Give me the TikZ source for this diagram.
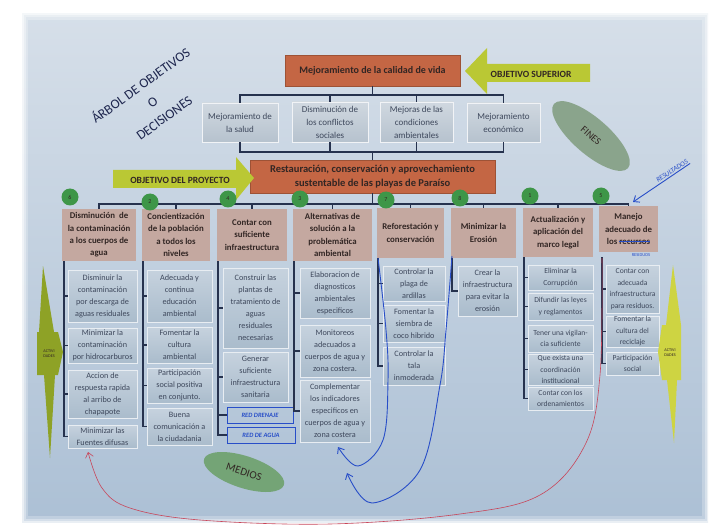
\documentclass[tikz,border=0pt]{standalone}
\usepackage{fontspec}
\setmainfont{Carlito}
\usetikzlibrary{arrows.meta,calc,shapes.geometric}
\definecolor{posterTop}{RGB}{214,223,233}
\definecolor{posterBot}{RGB}{172,192,213}
\definecolor{orangeBox}{RGB}{196,102,68}
\definecolor{hdrFill}{RGB}{196,168,160}
\definecolor{itemTop}{RGB}{198,210,222}
\definecolor{itemBot}{RGB}{170,188,204}
\definecolor{finesTop}{RGB}{208,216,224}
\definecolor{finesBot}{RGB}{182,194,206}
\definecolor{lineC}{RGB}{38,50,78}
\definecolor{txtDark}{RGB}{50,38,36}
\definecolor{txtItem}{RGB}{62,72,92}
\definecolor{arrowYG}{RGB}{186,200,52}
\definecolor{actDark}{RGB}{142,162,38}
\definecolor{actLight}{RGB}{206,212,66}
\definecolor{circG}{RGB}{62,150,72}
\definecolor{finesEl}{RGB}{138,164,140}
\definecolor{mediosEl}{RGB}{116,164,118}
\definecolor{penBlue}{RGB}{40,78,200}
\definecolor{penRed}{RGB}{200,70,90}
\definecolor{titleC}{RGB}{30,38,78}
\newcommand\bx[7]{\node[#6, minimum width={(#4)-(#2)}, minimum height={(#5)-(#3)}] (#1) at ({((#2)+(#4))/2},{((#3)+(#5))/2}) {#7};}
\newcommand\mystrike[1]{\setbox0\hbox{#1}\rlap{#1}{\color{penBlue}\rule[0.3em]{\wd0}{0.7pt}}}
\tikzset{
 ln/.style={draw=lineC, line width=1.1pt},
 obox/.style={fill=orangeBox, draw=orangeBox!80!black, line width=0.3pt, inner sep=0pt, align=center, text=txtDark, font=\bfseries\fontsize{10}{13}\selectfont},
 fbox/.style={top color=finesTop, bottom color=finesBot, draw=white!70!finesTop, line width=0.5pt, inner sep=0pt, align=center, text=txtItem, font=\fontsize{9}{13}\selectfont},
 hbox/.style={fill=hdrFill, inner sep=0pt, align=center, text=txtDark, font=\bfseries\fontsize{8.8}{12.4}\selectfont},
 ibox/.style={top color=itemTop, bottom color=itemBot, draw=white!60!itemTop, line width=0.5pt, inner sep=0pt, align=center, text=txtItem, font=\fontsize{8.2}{12}\selectfont},
 sbox/.style={ibox, font=\fontsize{7.6}{11.5}\selectfont},
 rbox/.style={draw=penBlue, line width=0.8pt, inner sep=0pt, text=penBlue, font=\itshape\bfseries\fontsize{6.5}{7}\selectfont},
 numc/.style={circle, fill=circG, minimum size=17pt, inner sep=0pt, font=\fontsize{6}{6}\selectfont, text=txtDark},
 pen/.style={draw=penBlue, line width=0.9pt},
 redpen/.style={draw=penRed, line width=0.6pt},
 titleS/.style={text=titleC, align=center, font=\fontsize{13.5}{20}\selectfont, inner sep=0pt},
 arrtxt/.style={text=txtDark, font=\bfseries\fontsize{9.5}{10}\selectfont, inner sep=0pt},
 acttxt/.style={text=txtDark, align=center, font=\fontsize{4.2}{4.8}\selectfont, inner sep=0pt},
}
\begin{document}
\begin{tikzpicture}[x=1pt,y=-1pt]
\useasboundingbox (0,0) rectangle (719,529);
\fill[white] (0,0) rectangle (719,529);
% poster
\shade[top color=posterTop, bottom color=posterBot] (22,14) rectangle (708,522);
\foreach \w/\o in {12/0.25,7/0.35,3/0.5} \draw[white, opacity=\o, line width=\w pt] (22,14) rectangle (708,522);

% title
\node[titleS, rotate=36] (title) at (152,101) {ÁRBOL DE OBJETIVOS\\O\\DECISIONES};

% top objective
\bx{top}{285}{55}{460}{86}{obox}{Mejoramiento de la calidad de vida}
\fill[arrowYG] (465,71) -- (487,48) -- (487,64) -- (590,64) -- (590,82) -- (487,82) -- (487,94) -- cycle;
\node[arrtxt] (objsup) at (531,74) {OBJETIVO SUPERIOR};

% fines
\bx{f1}{202}{103}{278}{142}{fbox}{Mejoramiento de\\la salud}
\bx{f2}{292}{102}{368}{142}{fbox}{Disminución de\\los conflictos\\sociales}
\bx{f3}{380}{102}{453}{142}{fbox}{Mejoras de las\\condiciones\\ambientales}
\bx{f4}{467}{103}{540}{142}{fbox}{Mejoramiento\\económico}

% project objective
\bx{proj}{250}{160}{495}{193}{obox, font=\bfseries\fontsize{10.5}{14}\selectfont}{Restauración, conservación y aprovechamiento\\sustentable de las playas de Paraíso}
\fill[arrowYG] (113,170) -- (236,170) -- (236,157) -- (254,178) -- (236,200) -- (236,188) -- (113,188) -- cycle;
\node[arrtxt] (objproy) at (180,180) {OBJETIVO DEL PROYECTO};

% connectors fines
\coordinate (busA) at (372.5,95);
\draw[ln] (top.south) -- (busA);
\draw[ln] (f1.north) |- (f4.north |- busA) -- (f4.north);
\draw[ln] (f2.north) -- (f2.north |- busA);
\draw[ln] (f3.north) -- (f3.north |- busA);
\coordinate (busB) at (372.5,152);
\draw[ln] (f1.south) |- (f4.south |- busB) -- (f4.south);
\draw[ln] (f2.south) -- (f2.south |- busB);
\draw[ln] (f3.south) -- (f3.south |- busB);
\draw[ln] (busB) -- (proj.north);

% column headers
\bx{h1}{62}{209}{136}{261}{hbox}{Disminución~ de\\la contaminación\\a los cuerpos de\\agua}
\bx{h2}{142}{209}{210}{261}{hbox}{Concientización\\de la población\\a todos los\\niveles}
\bx{h3}{217}{209}{287}{261}{hbox}{Contar con\\suficiente\\infraestructura}
\bx{h4}{293}{209}{372}{261}{hbox}{Alternativas de\\solución a la\\problemática\\ambiental}
\bx{h5}{377}{208}{444}{258}{hbox}{Reforestación y\\conservación}
\bx{h6}{451}{208}{516}{258}{hbox}{Minimizar la\\Erosión}
\bx{h7}{523}{208}{593}{257}{hbox}{Actualización y\\aplicación del\\marco legal}
\bx{h8}{599}{206}{658}{252}{hbox}{Manejo\\adecuado de\\los \mystrike{recursos}}
\node[text=penBlue, font=\fontsize{4.5}{5}\selectfont, inner sep=0pt, anchor=north] (resid) at (641,253) {RESIDUOS};

% column bus
\coordinate (busC) at (372.5,204);
\draw[ln] (proj.south) -- (busC);
\draw[ln] (h1.north) |- (h8.north |- busC) -- (h8.north);
\foreach \h in {h2,h3,h4,h5,h6,h7} \draw[ln] (\h.north) -- (\h.north |- busC);

% numbers
\node[numc] (n6) at (70,197) {6};
\node[numc] (n2) at (150,202) {2};
\node[numc] (n4) at (228,199) {4};
\node[numc] (n3) at (300,199) {3};
\node[numc] (n7) at (386,200) {7};
\node[numc] (n8) at (460,198) {8};
\node[numc] (n1) at (530,196) {1};
\node[numc] (n5) at (601,196) {5};

% column 1
\bx{c1a}{68}{270}{137}{322}{ibox}{Disminuir la\\contaminación\\por descarga de\\aguas residuales}
\bx{c1b}{68}{328}{137}{363}{ibox}{Minimizar la\\contaminación\\por hidrocarburos}
\bx{c1c}{68}{370}{137}{418}{ibox}{Accion de\\respuesta rapida\\al arribo de\\chapapote}
\bx{c1d}{68}{425}{137}{448}{ibox}{Minimizar las\\Fuentes difusas}
% column 2
\bx{c2a}{147}{270}{212}{322}{ibox}{Adecuada y\\continua\\educación\\ambiental}
\bx{c2b}{147}{327}{212}{363}{ibox}{Fomentar la\\cultura\\ambiental}
\bx{c2c}{147}{368}{212}{403}{ibox}{Participación\\social positiva\\en conjunto.}
\bx{c2d}{147}{408}{212}{445}{ibox}{Buena\\comunicación a\\la ciudadania}
% column 3
\bx{c3a}{223}{268}{288}{348}{ibox}{Construir las\\plantas de\\tratamiento de\\aguas\\residuales\\necesarias}
\bx{c3b}{223}{352}{288}{402}{ibox}{Generar\\suficiente\\infraestructura\\sanitaria}
\bx{r1}{227}{407}{293}{423}{rbox}{RED DRENAJE}
\bx{r2}{227}{427}{295}{443}{rbox}{RED DE AGUA}
% column 4
\bx{c4a}{300}{268}{370}{318}{ibox}{Elaboracion de\\diagnosticos\\ambientales\\especificos}
\bx{c4b}{300}{325}{370}{377}{ibox}{Monitoreos\\adecuados a\\cuerpos de agua y\\zona costera.}
\bx{c4c}{300}{380}{370}{442}{ibox}{Complementar\\los indicadores\\especificos en\\cuerpos de agua y\\zona costera}
% column 5
\bx{c5a}{383}{266}{445}{301}{ibox}{Controlar la\\plaga de\\ardillas}
\bx{c5b}{383}{305}{445}{342}{ibox}{Fomentar la\\siembra de\\coco hibrido}
\bx{c5c}{383}{347}{445}{385}{ibox}{Controlar la\\tala\\inmoderada}
% column 6
\bx{c6a}{458}{266}{517}{316}{ibox}{Crear la\\infraestructura\\para evitar la\\erosión}
% column 7
\bx{c7a}{528}{265}{593}{290}{sbox}{Eliminar la\\Corrupción}
\bx{c7b}{528}{293}{593}{320}{sbox}{Difundir las leyes\\y reglamentos}
\bx{c7c}{528}{325}{593}{352}{sbox}{Tener una vigilan-\\cia suficiente}
\bx{c7d}{528}{354}{593}{385}{sbox}{Que exista una\\coordinación\\institucional}
\bx{c7e}{528}{387}{593}{410}{sbox}{Contar con los\\ordenamientos}
% column 8
\bx{c8a}{606}{265}{659}{313}{sbox}{Contar con\\adecuada\\infraestructura\\para residuos.}
\bx{c8b}{606}{316}{659}{347}{sbox}{Fomentar la\\cultura del\\reciclaje}
\bx{c8c}{606}{352}{659}{375}{sbox}{Participación\\social}

% brackets
\coordinate (b1) at (64,261);
\coordinate (b2) at (143,261);
\coordinate (b3) at (218,261);
\coordinate (b4) at (294,261);
\coordinate (b5) at (378,258);
\coordinate (b6) at (452,258);
\coordinate (b7) at (524,257);
\coordinate (b8) at (602,257);
\draw[ln] (b1) |- (c1d.west);
\foreach \n in {c1a,c1b,c1c} \draw[ln] (\n.west) -- (\n.west -| b1);
\draw[ln] (b2) |- (c2d.west);
\foreach \n in {c2a,c2b,c2c} \draw[ln] (\n.west) -- (\n.west -| b2);
\draw[ln] (b3) |- (r2.west);
\foreach \n in {c3a,c3b,r1} \draw[ln] (\n.west) -- (\n.west -| b3);
\draw[ln] (b4) |- (c4c.west);
\foreach \n in {c4a,c4b} \draw[ln] (\n.west) -- (\n.west -| b4);
\draw[ln] (b5) |- (c5c.west);
\foreach \n in {c5a,c5b} \draw[ln] (\n.west) -- (\n.west -| b5);
\draw[ln] (b6) |- (c6a.west);
\draw[ln] (b7) |- (c7e.west);
\foreach \n in {c7a,c7b,c7c,c7d} \draw[ln] (\n.west) -- (\n.west -| b7);
\draw[ln] (b8) |- (c8c.west);
\foreach \n in {c8a,c8b} \draw[ln] (\n.west) -- (\n.west -| b8);

% actividades shapes
\fill[actDark] (43,266) -- (54,332) -- (58,332) -- (63,352) -- (58,375) -- (55,375) -- (50,458) -- (44,375) -- (37,375) -- (37,332) -- (39,332) -- cycle;
\node[acttxt] (actL) at (49,354) {ACTIVI\\DADES};
\fill[actLight] (673,265) -- (681,325) -- (681,380) -- (677,380) -- (674,443) -- (667,380) -- (662,380) -- (658,352) -- (662,325) -- (666,325) -- cycle;
\node[acttxt] (actR) at (670,353) {ACTIVI\\DADES};

% ellipses
\node[ellipse, fill=finesEl, minimum width=98pt, minimum height=36pt, rotate=-41, text=txtDark, font=\fontsize{10}{10}\selectfont] (fines) at (591,136) {FINES};
\node[ellipse, fill=mediosEl, minimum width=84pt, minimum height=32pt, rotate=-18, text=txtDark, font=\fontsize{11}{11}\selectfont] (medios) at (244,472) {MEDIOS};

% handwritten annotations
\node[rotate=33, text=penBlue, font=\itshape\fontsize{7}{7}\selectfont, inner sep=1pt] (res) at (672,171) {RESULTADOS};
\coordinate (resTip) at (633,202);
\draw[pen, -{Straight Barb[length=5pt,width=8pt]}] (res.south east) -- (resTip);

\coordinate (ba0) at (378,258);
\coordinate (ba1) at (386,330);
\coordinate (ba2) at (388,380);
\coordinate (ba3) at (383,440);
\coordinate (ba4) at (358,466);
\coordinate (ba5) at (338,447);
\draw[pen, -{Straight Barb[length=5pt,width=8pt]}] plot[smooth, tension=0.6] coordinates {(ba0) (ba1) (ba2) (ba3) (ba4) (ba5)};
\coordinate (bb0) at (452,256);
\coordinate (bb1) at (446,330);
\coordinate (bb2) at (440,385);
\coordinate (bb3) at (420,470);
\coordinate (bb4) at (372,503);
\coordinate (bb5) at (347,473);
\draw[pen, -{Straight Barb[length=5pt,width=8pt]}] plot[smooth, tension=0.6] coordinates {(bb0) (bb1) (bb2) (bb3) (bb4) (bb5)};

\coordinate (rc0) at (602,258);
\coordinate (rc1) at (600,375);
\coordinate (rc2) at (585,445);
\coordinate (rc3) at (540,495);
\coordinate (rc4) at (460,514);
\coordinate (rc5) at (330,524);
\coordinate (rc6) at (200,520);
\coordinate (rc7) at (130,508);
\coordinate (rc8) at (102,488);
\coordinate (rc9) at (88,452);
\draw[redpen, -{Straight Barb[length=5pt,width=8pt]}] plot[smooth, tension=0.6] coordinates {(rc0) (rc1) (rc2) (rc3) (rc4) (rc5) (rc6) (rc7) (rc8) (rc9)};
\end{tikzpicture}
\end{document}
